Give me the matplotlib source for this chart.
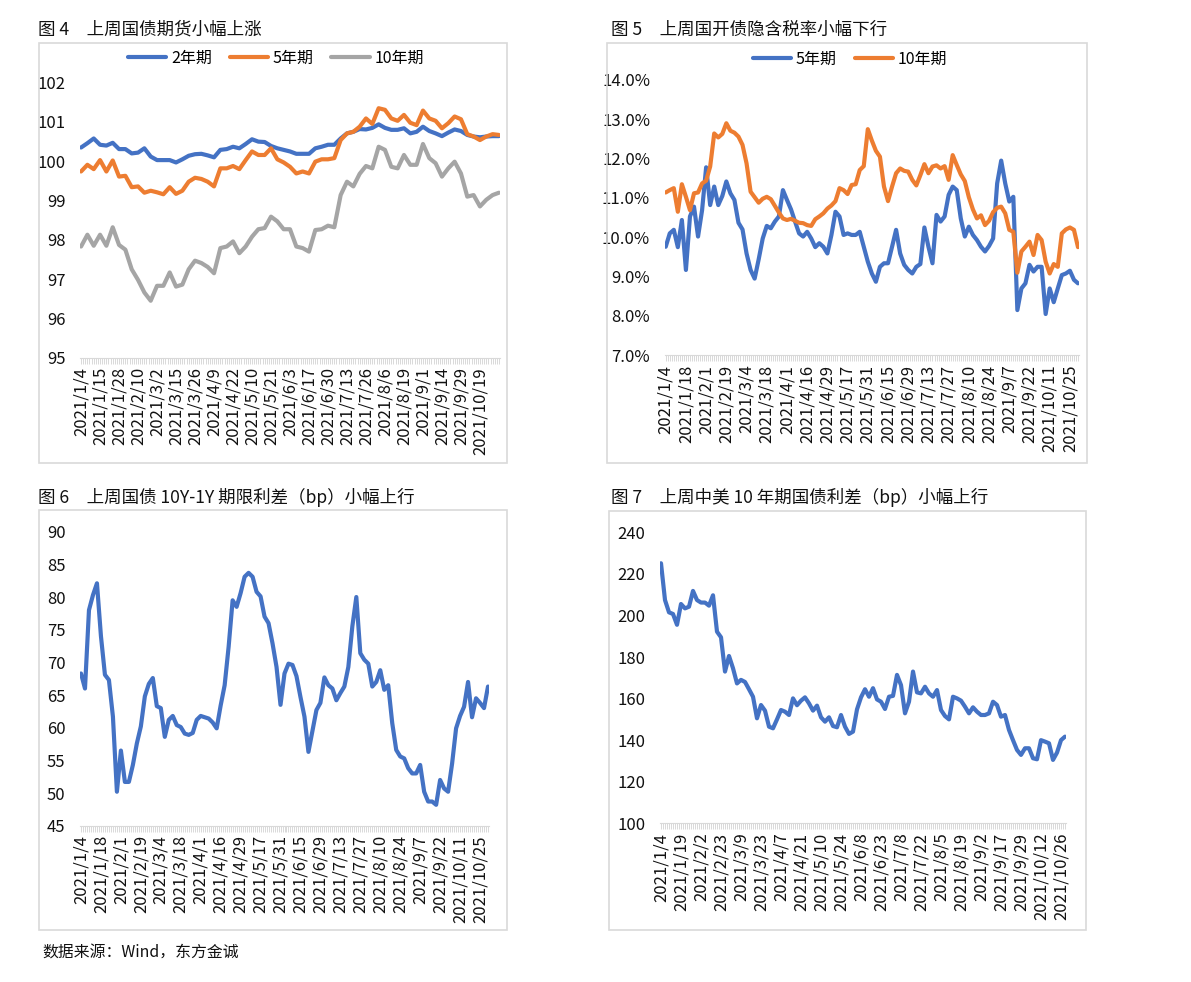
"""Four-panel bond market chart (figures 4-7), rebuilt with matplotlib."""

import matplotlib
matplotlib.use("Agg")
import matplotlib.pyplot as plt
import numpy as np
from matplotlib.patches import Rectangle
from matplotlib.ticker import FuncFormatter

plt.rcParams["font.family"] = ["Noto Sans CJK SC", "DejaVu Sans"]

FIG_W_PX, FIG_H_PX = 1191, 982
BLUE = "#4472C4"
ORANGE = "#ED7D31"
GRAY = "#A5A5A5"
BOX_COLOR = "#d9d9d9"
TEXT_COLOR = "#111111"
TICK_SIZE = 12

# ---- figure 4: treasury futures, sampled every 3 trading days ----
fut_step = 3
fut_days = 199
fut_ticks = ["2021/1/4", "2021/1/15", "2021/1/28", "2021/2/10", "2021/3/2",
             "2021/3/15", "2021/3/26", "2021/4/9", "2021/4/22", "2021/5/10",
             "2021/5/21", "2021/6/3", "2021/6/17", "2021/6/30", "2021/7/13",
             "2021/7/26", "2021/8/6", "2021/8/19", "2021/9/1", "2021/9/14",
             "2021/9/29", "2021/10/19"]
fut_2y = [100.35, 100.46, 100.58, 100.42, 100.40, 100.47, 100.31, 100.31, 100.20, 100.22,
          100.33, 100.12, 100.03, 100.03, 100.03, 99.97, 100.05, 100.14, 100.18, 100.19,
          100.15, 100.10, 100.29, 100.31, 100.37, 100.33, 100.44, 100.56, 100.50, 100.49,
          100.39, 100.33, 100.29, 100.25, 100.19, 100.19, 100.19, 100.33, 100.37, 100.42,
          100.42, 100.58, 100.71, 100.75, 100.82, 100.81, 100.85, 100.94, 100.85, 100.80,
          100.80, 100.84, 100.71, 100.75, 100.88, 100.77, 100.71, 100.64, 100.73, 100.81,
          100.77, 100.67, 100.63, 100.61, 100.63, 100.64, 100.64]
fut_5y = [99.74, 99.91, 99.80, 100.03, 99.74, 100.02, 99.61, 99.63, 99.34, 99.36,
          99.20, 99.25, 99.21, 99.16, 99.34, 99.17, 99.25, 99.48, 99.58, 99.55,
          99.48, 99.36, 99.82, 99.82, 99.88, 99.80, 100.03, 100.25, 100.16, 100.16,
          100.33, 100.05, 99.97, 99.86, 99.69, 99.74, 99.69, 99.99, 100.05, 100.05,
          100.08, 100.54, 100.71, 100.75, 100.88, 101.09, 100.95, 101.35, 101.31, 101.09,
          101.03, 101.18, 100.98, 100.92, 101.29, 101.09, 101.03, 100.84, 100.97, 101.14,
          101.07, 100.69, 100.63, 100.54, 100.63, 100.69, 100.67]
fut_10y = [97.83, 98.13, 97.85, 98.13, 97.85, 98.32, 97.87, 97.75, 97.25, 96.98,
           96.66, 96.45, 96.83, 96.83, 97.17, 96.81, 96.86, 97.25, 97.47, 97.41,
           97.31, 97.15, 97.79, 97.83, 97.96, 97.66, 97.83, 98.08, 98.27, 98.30,
           98.59, 98.47, 98.27, 98.27, 97.83, 97.79, 97.70, 98.25, 98.27, 98.36,
           98.32, 99.14, 99.48, 99.36, 99.68, 99.88, 99.82, 100.37, 100.29, 99.86,
           99.82, 100.16, 99.91, 99.91, 100.44, 100.08, 99.95, 99.61, 99.82, 99.99,
           99.69, 99.10, 99.14, 98.85, 99.02, 99.14, 99.20]

# ---- figure 5: CDB implied tax rate (%), sampled every 2 trading days ----
tax_step = 2
tax_days = 205
tax_ticks = ["2021/1/4", "2021/1/18", "2021/2/1", "2021/2/19", "2021/3/4",
             "2021/3/18", "2021/4/1", "2021/4/16", "2021/4/29", "2021/5/17",
             "2021/5/31", "2021/6/15", "2021/6/29", "2021/7/13", "2021/7/27",
             "2021/8/10", "2021/8/24", "2021/9/7", "2021/9/22", "2021/10/11",
             "2021/10/25"]
tax_5y = [9.76, 10.10, 10.19, 9.75, 10.44, 9.17, 10.53, 10.78, 10.02, 10.69,
          11.78, 10.82, 11.29, 10.82, 11.05, 11.42, 11.12, 10.95, 10.37, 10.20,
          9.59, 9.17, 8.95, 9.44, 9.97, 10.29, 10.23, 10.40, 10.53, 11.20,
          10.95, 10.71, 10.40, 10.10, 10.02, 10.14, 9.97, 9.75, 9.85, 9.76,
          9.59, 10.06, 10.65, 10.53, 10.06, 10.10, 10.06, 10.06, 10.14, 9.76,
          9.38, 9.08, 8.87, 9.25, 9.34, 9.34, 9.76, 10.19, 9.59, 9.30,
          9.17, 9.08, 9.25, 9.32, 10.25, 9.76, 9.34, 10.57, 10.40, 10.53,
          11.08, 11.29, 11.20, 10.48, 10.02, 10.27, 10.06, 9.93, 9.76, 9.64,
          9.78, 9.97, 11.37, 11.95, 11.37, 10.91, 11.03, 8.15, 8.70, 8.83,
          9.30, 9.13, 9.25, 9.25, 8.05, 8.70, 8.35, 8.70, 9.04, 9.08,
          9.15, 8.92, 8.83]
tax_10y = [11.14, 11.20, 11.25, 10.65, 11.35, 11.03, 10.69, 11.12, 11.14, 11.37,
           11.44, 11.80, 12.64, 12.54, 12.63, 12.90, 12.71, 12.66, 12.56, 12.35,
           11.88, 11.16, 11.02, 10.88, 10.98, 11.03, 10.97, 10.80, 10.63, 10.48,
           10.44, 10.47, 10.42, 10.37, 10.36, 10.31, 10.29, 10.46, 10.53, 10.61,
           10.73, 10.81, 10.92, 11.25, 11.20, 11.10, 11.33, 11.35, 11.71, 11.81,
           12.75, 12.46, 12.20, 12.05, 11.29, 10.92, 11.29, 11.63, 11.75, 11.69,
           11.67, 11.46, 11.32, 11.58, 11.86, 11.63, 11.80, 11.83, 11.75, 11.81,
           11.46, 12.09, 11.84, 11.60, 11.43, 11.02, 10.71, 10.48, 10.56, 10.31,
           10.42, 10.64, 10.75, 10.78, 10.61, 10.19, 10.14, 9.10, 9.64, 9.76,
           9.89, 9.55, 10.06, 9.93, 9.38, 9.08, 9.32, 9.25, 10.10, 10.20,
           10.25, 10.19, 9.75]

# ---- figure 6: 10Y-1Y term spread (bp), sampled every 2 trading days ----
term_step = 2
term_days = 205
term_ticks = tax_ticks
term_spread = [68.3, 66.0, 78.0, 80.3, 82.1, 74.0, 68.1, 67.3, 61.7, 50.2,
               56.5, 51.7, 51.7, 54.3, 57.6, 60.2, 64.8, 66.7, 67.6, 63.3,
               63.0, 58.6, 61.2, 61.8, 60.4, 60.1, 59.1, 58.9, 59.2, 61.2,
               61.8, 61.6, 61.4, 60.8, 59.9, 63.4, 66.5, 72.4, 79.5, 78.5,
               80.6, 83.1, 83.7, 83.1, 80.8, 80.1, 77.0, 76.0, 72.9, 69.3,
               63.5, 68.3, 69.8, 69.6, 67.9, 64.7, 61.7, 56.3, 59.5, 62.7,
               63.8, 67.7, 66.5, 66.0, 64.2, 65.3, 66.3, 69.3, 75.5, 80.0,
               71.4, 70.4, 69.8, 66.3, 67.0, 68.8, 65.8, 66.5, 60.7, 56.6,
               55.6, 55.3, 53.8, 53.0, 53.0, 54.3, 50.2, 48.7, 48.7, 48.2,
               52.0, 50.7, 50.2, 54.5, 59.9, 61.8, 63.2, 67.0, 61.6, 64.5,
               63.8, 63.0, 66.3]

# ---- figure 7: China-US 10Y spread (bp), sampled every 2 trading days ----
cnus_step = 2
cnus_days = 203
cnus_ticks = ["2021/1/4", "2021/1/19", "2021/2/2", "2021/2/23", "2021/3/9",
              "2021/3/23", "2021/4/7", "2021/4/21", "2021/5/10", "2021/5/24",
              "2021/6/8", "2021/6/23", "2021/7/8", "2021/7/22", "2021/8/5",
              "2021/8/19", "2021/9/2", "2021/9/17", "2021/9/29", "2021/10/12",
              "2021/10/26"]
cnus_spread = [225.1, 207.4, 201.5, 200.7, 195.5, 205.5, 203.4, 204.2, 211.8, 207.4,
               206.2, 206.2, 204.7, 209.7, 192.2, 189.5, 173.0, 180.5, 174.6, 167.3,
               169.0, 168.0, 164.5, 160.9, 150.5, 156.9, 154.2, 146.5, 145.7, 150.0,
               154.5, 153.7, 152.1, 160.1, 156.8, 159.0, 160.6, 157.7, 154.2, 156.6,
               151.0, 148.9, 151.0, 146.8, 146.2, 152.1, 146.5, 143.0, 144.1, 154.8,
               160.6, 164.5, 160.9, 165.0, 159.6, 158.5, 155.0, 160.9, 161.3, 171.4,
               166.5, 152.9, 158.5, 173.0, 163.0, 162.5, 165.7, 162.5, 160.9, 164.1,
               154.5, 151.6, 150.0, 160.9, 160.1, 159.0, 156.1, 152.9, 155.8, 153.7,
               152.1, 152.1, 152.9, 158.5, 156.9, 151.3, 152.1, 144.9, 140.0, 135.3,
               132.9, 136.1, 136.1, 131.3, 130.8, 140.0, 139.3, 138.5, 130.5, 134.0,
               140.0, 141.7]


def fig_rect(x0, y0, x1, y1):
    """Pixel box (top-left origin) -> figure fraction [left, bottom, w, h]."""
    return [x0 / FIG_W_PX, 1 - y1 / FIG_H_PX,
            (x1 - x0) / FIG_W_PX, (y1 - y0) / FIG_H_PX]


def fig_xy(x, y):
    return x / FIG_W_PX, 1 - y / FIG_H_PX


def add_box(fig, x0, y0, x1, y1):
    fig.patches.append(Rectangle(
        fig_xy(x0, y1), (x1 - x0) / FIG_W_PX, (y1 - y0) / FIG_H_PX,
        transform=fig.transFigure, fill=False, edgecolor=BOX_COLOR, lw=1.2))


def draw_panel(fig, rect, series, step, n_days, tick_labels, label_every,
               ylim, yticks, yfmt=None):
    ax = fig.add_axes(rect)
    for values, color, label in series:
        x = np.arange(len(values)) * step
        ax.plot(x, values, color=color, lw=3.0, label=label,
                solid_joinstyle="round", solid_capstyle="round")

    ax.set_xlim(-0.5, n_days - 0.5)
    ax.set_ylim(*ylim)
    ax.set_yticks(yticks)
    if yfmt is not None:
        ax.yaxis.set_major_formatter(FuncFormatter(yfmt))

    ax.set_xticks(np.arange(len(tick_labels)) * label_every)
    ax.set_xticklabels(tick_labels, rotation=90)
    ax.set_xticks(np.arange(n_days), minor=True)

    for side in ("top", "right", "left"):
        ax.spines[side].set_visible(False)
    ax.spines["bottom"].set_color(BOX_COLOR)
    ax.tick_params(axis="x", which="both", length=4.3, width=0.7,
                   color=BOX_COLOR, labelsize=TICK_SIZE, labelcolor=TEXT_COLOR,
                   pad=2.5)
    ax.tick_params(axis="y", length=0, pad=10.5, labelsize=TICK_SIZE,
                   labelcolor=TEXT_COLOR)
    ax.patch.set_alpha(0)
    return ax


fig = plt.figure(figsize=(FIG_W_PX / 100, FIG_H_PX / 100), dpi=100)

# panel boxes
add_box(fig, 39, 43, 507, 463)
add_box(fig, 607, 43, 1087, 463)
add_box(fig, 39, 510, 507, 930)
add_box(fig, 609, 511, 1086, 930)

title_kw = dict(fontsize=12.6, color=TEXT_COLOR, ha="left", va="center")
fig.text(*fig_xy(38, 30), "图 4\u3000上周国债期货小幅上涨", **title_kw)
fig.text(*fig_xy(611, 30), "图 5\u3000上周国开债隐含税率小幅下行", **title_kw)
fig.text(*fig_xy(38, 497), "图 6\u3000上周国债 10Y-1Y 期限利差（bp）小幅上行", **title_kw)
fig.text(*fig_xy(611, 497), "图 7\u3000上周中美 10 年期国债利差（bp）小幅上行", **title_kw)
fig.text(*fig_xy(42, 953), "数据来源：Wind，东方金诚", fontsize=11.4,
         color=TEXT_COLOR, ha="left", va="center")

ax4 = draw_panel(
    fig, fig_rect(80, 82.7, 500, 357.7),
    [(fut_2y, BLUE, "2年期"), (fut_5y, ORANGE, "5年期"), (fut_10y, GRAY, "10年期")],
    fut_step, fut_days, fut_ticks, 9,
    (95, 102), np.arange(95, 103, 1))

ax5 = draw_panel(
    fig, fig_rect(664.7, 80, 1079, 355.3),
    [(tax_5y, BLUE, "5年期"), (tax_10y, ORANGE, "10年期")],
    tax_step, tax_days, tax_ticks, 10,
    (7, 14), np.arange(7, 15, 1), lambda v, _: f"{v:.1f}%")

ax6 = draw_panel(
    fig, fig_rect(80, 531.7, 489, 825.7),
    [(term_spread, BLUE, "期限利差")],
    term_step, term_days, term_ticks, 10,
    (45, 90), np.arange(45, 91, 5))

ax7 = draw_panel(
    fig, fig_rect(660, 532.3, 1066, 823.3),
    [(cnus_spread, BLUE, "中美利差")],
    cnus_step, cnus_days, cnus_ticks, 10,
    (100, 240), np.arange(100, 241, 20))

legend_kw = dict(loc="center", frameon=False, fontsize=11.5, handlelength=2.4,
                 handletextpad=0.3, columnspacing=1.1,
                 bbox_transform=fig.transFigure)
ax4.legend(ncol=3, bbox_to_anchor=fig_xy(276, 58), **legend_kw)
ax5.legend(ncol=2, bbox_to_anchor=fig_xy(850, 59), **legend_kw)

fig.savefig("out.png", dpi=100)
